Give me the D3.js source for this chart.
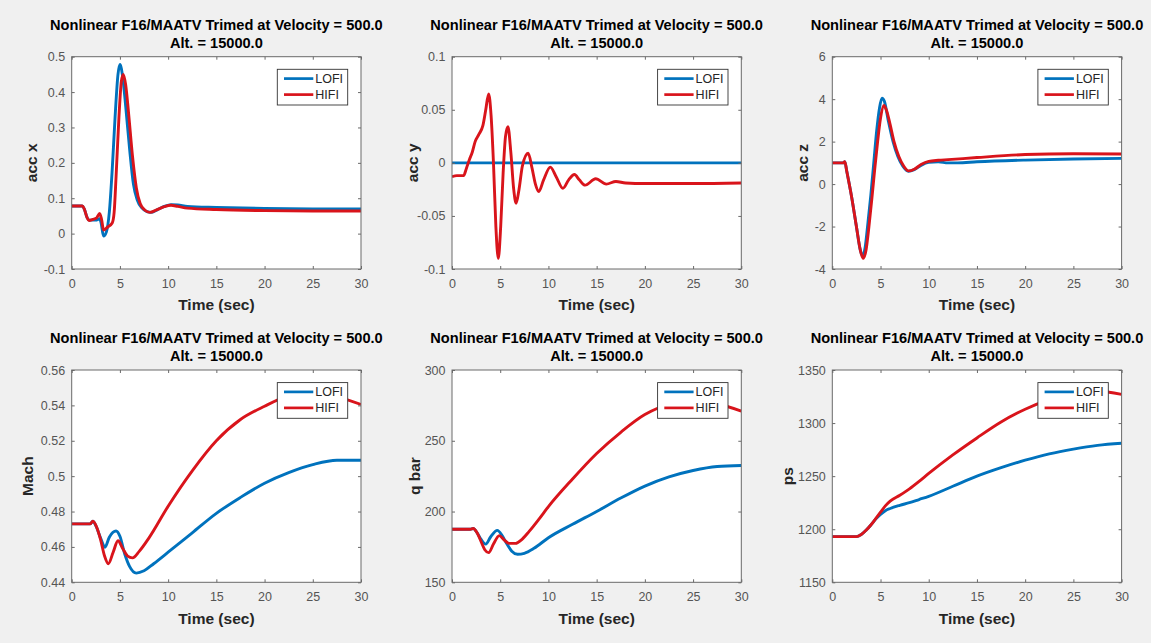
<!DOCTYPE html>
<html lang="en">
<head>
<meta charset="utf-8">
<title>Nonlinear F16/MAATV Trimed at Velocity = 500.0</title>
<script src="https://d3js.org/d3.v7.min.js"></script>
<style>
  body { margin: 0; background: #f0f0f0; }
  svg { display: block; }
</style>
</head>
<body>
<div id="chart"></div>
<script>
// ---- data: [time (sec), value] ----
var timeTicks = [0, 5, 10, 15, 20, 25, 30];
var seriesNames = ["LOFI", "HIFI"];
var titleLines = ["Nonlinear F16/MAATV Trimed at Velocity = 500.0", "Alt. = 15000.0"];
var xLabel = "Time (sec)";

var accxTicks = [-0.1, 0, 0.1, 0.2, 0.3, 0.4, 0.5];
var accxLofi = [[0,0.078],[1.1,0.078],[1.3,0.07],[1.6,0.045],[1.8,0.038],[2.5,0.038],[2.9,0.042],[3.05,0.03],[3.3,-0.007],[3.6,0.005],[3.9,0.06],[4.2,0.18],[4.5,0.33],[4.8,0.45],[5.0,0.478],[5.3,0.44],[5.6,0.36],[6.0,0.24],[6.4,0.14],[6.8,0.095],[7.3,0.072],[7.8,0.062],[8.2,0.06],[8.9,0.068],[9.6,0.077],[10.3,0.082],[11,0.081],[12,0.077],[15,0.074],[20,0.071],[25,0.07],[30,0.07]];
var accxHifi = [[0,0.078],[1.1,0.078],[1.3,0.07],[1.6,0.045],[1.8,0.037],[2.2,0.04],[2.6,0.045],[2.9,0.057],[3.1,0.04],[3.3,0.01],[3.7,0.018],[4.2,0.03],[4.4,0.06],[4.6,0.16],[4.9,0.33],[5.15,0.43],[5.35,0.45],[5.6,0.42],[5.9,0.34],[6.3,0.22],[6.7,0.13],[7.1,0.085],[7.6,0.066],[8.1,0.06],[8.8,0.067],[9.6,0.076],[10.3,0.08],[11,0.077],[12,0.072],[15,0.068],[20,0.065],[25,0.064],[30,0.064]];

var accyTicks = [-0.1, -0.05, 0, 0.05, 0.1];
var accyLofi = [[0,0],[30,0]];
var accyHifi = [[0,-0.013],[0.5,-0.012],[1.2,-0.012],[1.5,-0.005],[1.8,0.003],[2.1,0.01],[2.4,0.02],[2.8,0.027],[3.2,0.035],[3.5,0.05],[3.8,0.065],[4.05,0.045],[4.3,0.0],[4.55,-0.06],[4.8,-0.09],[5.05,-0.06],[5.3,-0.01],[5.55,0.025],[5.8,0.034],[6.1,0.01],[6.4,-0.025],[6.65,-0.038],[6.95,-0.025],[7.3,-0.003],[7.9,0.009],[8.3,-0.005],[8.65,-0.02],[9.0,-0.027],[9.5,-0.016],[10.2,-0.004],[10.8,-0.013],[11.5,-0.024],[12.1,-0.016],[12.7,-0.011],[13.2,-0.016],[13.8,-0.021],[14.9,-0.015],[16,-0.02],[17,-0.0175],[18,-0.019],[20,-0.0195],[25,-0.0195],[30,-0.019]];

var acczTicks = [-4, -2, 0, 2, 4, 6];
var acczLofi = [[0,1.0],[1.1,1.0],[1.3,1.05],[1.5,0.6],[2.0,-0.6],[2.5,-2.0],[2.9,-3.1],[3.15,-3.4],[3.4,-3.0],[3.7,-1.8],[4.0,-0.5],[4.3,1.0],[4.6,2.5],[4.9,3.6],[5.15,4.05],[5.4,3.9],[5.8,3.0],[6.3,2.0],[6.8,1.3],[7.3,0.85],[7.9,0.6],[8.5,0.68],[9.2,0.88],[10,1.02],[11,1.05],[12,1.0],[13,1.0],[15,1.05],[20,1.13],[25,1.18],[30,1.21]];
var acczHifi = [[0,1.0],[1.1,1.0],[1.3,1.05],[1.5,0.6],[2.0,-0.6],[2.5,-2.0],[2.9,-3.1],[3.2,-3.5],[3.5,-3.1],[3.8,-2.0],[4.1,-0.7],[4.4,0.7],[4.7,2.0],[5.0,3.1],[5.35,3.7],[5.6,3.5],[6.0,2.8],[6.4,2.0],[6.9,1.3],[7.4,0.85],[7.9,0.62],[8.5,0.7],[9.2,0.92],[10,1.07],[11,1.12],[12,1.15],[15,1.25],[20,1.39],[25,1.43],[30,1.42]];

var machTicks = [0.44, 0.46, 0.48, 0.5, 0.52, 0.54, 0.56];
var machLofi = [[0,0.473],[1.9,0.473],[2.2,0.4745],[2.5,0.472],[3.0,0.465],[3.45,0.4598],[3.9,0.4655],[4.6,0.469],[5.0,0.466],[5.5,0.456],[6.0,0.449],[6.7,0.4452],[7.5,0.4465],[8.5,0.4505],[10,0.457],[12.5,0.468],[15,0.479],[17.5,0.488],[20,0.496],[22.5,0.502],[25,0.5065],[27.5,0.509],[30,0.509]];
var machHifi = [[0,0.473],[1.9,0.473],[2.2,0.4745],[2.6,0.471],[3.0,0.464],[3.4,0.455],[3.8,0.4505],[4.3,0.457],[4.8,0.4635],[5.3,0.459],[5.8,0.4548],[6.3,0.4538],[7.0,0.4575],[8.0,0.465],[10,0.483],[12.5,0.503],[15,0.52],[17.5,0.532],[20,0.5395],[22.5,0.5455],[25,0.5475],[27.5,0.545],[30,0.5405]];

var qbarTicks = [150, 200, 250, 300];
var qbarLofi = [[0,187.5],[1.9,187.5],[2.2,188],[2.6,185],[3.0,180.5],[3.5,177],[4.0,182],[4.7,186.7],[5.2,183],[5.7,177],[6.2,172],[6.8,169.8],[7.5,170.5],[8.5,174],[10,181.5],[12.5,191],[15,200],[17.5,209.5],[20,218],[22.5,224.5],[25,229],[27.5,231.8],[30,232.5]];
var qbarHifi = [[0,187.5],[1.9,187.5],[2.2,188],[2.6,185],[3.0,179],[3.4,173],[3.8,171],[4.3,177],[4.9,183],[5.4,180],[5.9,177.5],[6.6,177.5],[7.2,180],[8,186],[9,194.5],[10,203.5],[12.5,223],[15,241],[17.5,256],[20,268.5],[22.5,275.5],[25,277.5],[27.5,276],[30,271]];

var psTicks = [1150, 1200, 1250, 1300, 1350];
var psLofi = [[0,1193],[2.5,1193],[3.0,1195],[3.5,1199],[4.0,1204],[4.5,1209.5],[5.0,1214],[5.5,1217.5],[6.0,1219.5],[7,1222.5],[8,1225],[9,1228],[10,1231],[12.5,1240.5],[15,1250],[17.5,1258],[20,1265],[22.5,1271],[25,1275.5],[27.5,1279],[30,1281]];
var psHifi = [[0,1193],[2.5,1193],[3.0,1195],[3.5,1199],[4.0,1204],[4.5,1210],[5.0,1216],[5.5,1222],[6.0,1226.5],[7,1232],[8,1238],[9,1245],[10,1252.5],[12.5,1270],[15,1286],[17.5,1301],[20,1313],[22.5,1322],[25,1328],[27.5,1330],[30,1327]];

var panels = [
  { ylabel: "acc x", ticks: accxTicks, lofi: accxLofi, hifi: accxHifi },
  { ylabel: "acc y", ticks: accyTicks, lofi: accyLofi, hifi: accyHifi },
  { ylabel: "acc z", ticks: acczTicks, lofi: acczLofi, hifi: acczHifi },
  { ylabel: "Mach",  ticks: machTicks, lofi: machLofi, hifi: machHifi },
  { ylabel: "q bar", ticks: qbarTicks, lofi: qbarLofi, hifi: qbarHifi },
  { ylabel: "ps",    ticks: psTicks,   lofi: psLofi,   hifi: psHifi }
];

// ---- layout ----
var W = 1151, H = 643;
var colLeft = [71.7, 452, 832.3];
var rowTop = [56.7, 370];
var pw = 289.3, ph = 212.3;
// distance from the left axis to the middle of each y label
var ylabelGap = [39.5, 38.7, 29, 43.4, 37, 44];
var font = "'Liberation Sans', Arial, Helvetica, sans-serif";
var lineColor = ["#0072bd", "#d9141b"];

var svg = d3.select("#chart").append("svg")
  .attr("width", W)
  .attr("height", H)
  .style("font-family", font);

svg.append("rect").attr("width", W).attr("height", H).attr("fill", "#f0f0f0");

// matlab-ish labels: hyphen minus, no trailing zeros
function fmt(v) { return String(+v.toFixed(4)); }

panels.forEach(function(p, i) {
  var g = svg.append("g")
    .attr("transform", "translate(" + colLeft[i % 3] + "," + rowTop[Math.floor(i / 3)] + ")");

  var x = d3.scaleLinear().domain([0, 30]).range([0, pw]);
  var y = d3.scaleLinear().domain(d3.extent(p.ticks)).range([ph, 0]);

  g.append("rect").attr("width", pw).attr("height", ph).attr("fill", "#fff");

  g.append("clipPath").attr("id", "clip" + i)
    .append("rect").attr("width", pw).attr("height", ph);

  // lines, LOFI first so HIFI sits on top
  var line = d3.line()
    .x(function(d) { return x(d[0]); })
    .y(function(d) { return y(d[1]); })
    .curve(d3.curveMonotoneX);

  [p.lofi, p.hifi].forEach(function(s, k) {
    g.append("path")
      .datum(s)
      .attr("clip-path", "url(#clip" + i + ")")
      .attr("fill", "none")
      .attr("stroke", lineColor[k])
      .attr("stroke-width", 2.9)
      .attr("stroke-linejoin", "round")
      .attr("d", line);
  });

  // axes, ticks pointing inwards on all four sides
  var bottom = g.append("g").attr("transform", "translate(0," + ph + ")")
    .call(d3.axisBottom(x).tickValues(timeTicks).tickSize(-3).tickSizeOuter(0).tickPadding(10).tickFormat(fmt));
  var left = g.append("g")
    .call(d3.axisLeft(y).tickValues(p.ticks).tickSize(-3).tickSizeOuter(0).tickPadding(6.5).tickFormat(fmt));
  var top = g.append("g")
    .call(d3.axisTop(x).tickValues(timeTicks).tickSize(-3).tickSizeOuter(0).tickFormat(""));
  var right = g.append("g").attr("transform", "translate(" + pw + ",0)")
    .call(d3.axisRight(y).tickValues(p.ticks).tickSize(-3).tickSizeOuter(0).tickFormat(""));

  [bottom, left, top, right].forEach(function(a) {
    a.attr("font-family", font).attr("font-size", 12.5);
    a.select(".domain").remove();
    a.selectAll(".tick line").attr("stroke", "#6a6a6a");
    a.selectAll(".tick text").attr("fill", "#555");
  });

  g.append("rect")
    .attr("width", pw).attr("height", ph)
    .attr("fill", "none").attr("stroke", "#6a6a6a").attr("stroke-width", 1);

  // titles
  g.append("text")
    .attr("x", pw / 2).attr("y", -27)
    .attr("text-anchor", "middle")
    .attr("font-size", 14.6).attr("font-weight", "bold").attr("fill", "#000")
    .text(titleLines[0]);
  g.append("text")
    .attr("x", pw / 2).attr("y", -8.7)
    .attr("text-anchor", "middle")
    .attr("font-size", 14.6).attr("font-weight", "bold").attr("fill", "#000")
    .text(titleLines[1]);

  // axis labels
  g.append("text")
    .attr("x", pw / 2).attr("y", ph + 41.4)
    .attr("text-anchor", "middle")
    .attr("font-size", 15.5).attr("font-weight", "bold").attr("fill", "#262626")
    .text(xLabel);

  g.append("text")
    .attr("transform", "translate(" + (-ylabelGap[i] + 4.5) + "," + (ph / 2) + ") rotate(-90)")
    .attr("text-anchor", "middle")
    .attr("font-size", 15.5).attr("font-weight", "bold").attr("fill", "#262626")
    .text(p.ylabel);

  // legend, top right, drawn over the lines
  var lg = g.append("g").attr("transform", "translate(" + (pw - 83.7) + ",12.6)");
  lg.append("rect")
    .attr("width", 70.4).attr("height", 35.7)
    .attr("fill", "#fff").attr("stroke", "#333").attr("stroke-width", 0.9);
  seriesNames.forEach(function(name, k) {
    var ly = 9.3 + k * 16;
    lg.append("line")
      .attr("x1", 6.7).attr("x2", 36).attr("y1", ly).attr("y2", ly)
      .attr("stroke", lineColor[k]).attr("stroke-width", 2.7);
    lg.append("text")
      .attr("x", 38).attr("y", ly).attr("dy", "0.35em")
      .attr("font-size", 12.5).attr("fill", "#262626")
      .text(name);
  });
});
</script>
</body>
</html>
